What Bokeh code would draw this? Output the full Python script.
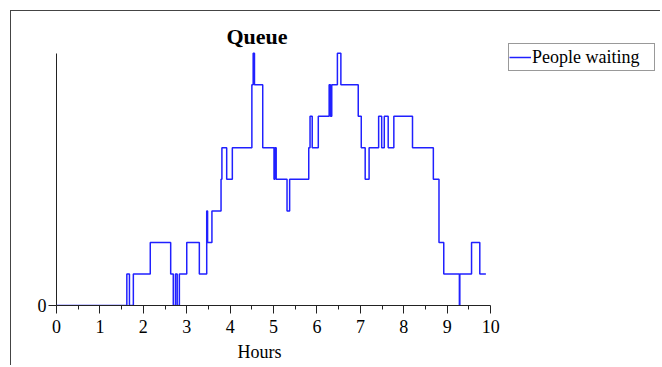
from bokeh.plotting import figure
from bokeh.models import (Range1d, FixedTicker, Title, Legend, LegendItem,
                          ColumnDataSource, Label)
from bokeh.embed import file_html
from bokeh.resources import INLINE

# Time (hours) at which the queue length changes, and the new queue length
hours = [0, 1.62, 1.68, 1.77, 2.16, 2.63, 2.69, 2.74, 2.78, 2.83, 3.00, 3.29,
         3.46, 3.48, 3.58, 3.79, 3.81, 3.92, 4.05, 4.50, 4.53, 4.56, 4.75,
         5.01, 5.03, 5.06, 5.31, 5.37, 5.81, 5.84, 5.89, 6.03, 6.28, 6.31,
         6.34, 6.47, 6.55, 6.95, 7.02, 7.11, 7.20, 7.42, 7.49, 7.55, 7.64,
         7.77, 8.20, 8.68, 8.81, 8.92, 9.28, 9.29, 9.56, 9.75, 9.89]
people = [0, 1, 0, 1, 2, 1, 0, 1, 0, 1, 2, 1,
          3, 2, 3, 4, 5, 4, 5, 7, 8, 7, 5,
          4, 5, 4, 3, 4, 5, 6, 5, 6, 7, 6,
          7, 8, 7, 6, 5, 4, 5, 6, 5, 6, 5,
          6, 5, 4, 2, 1, 0, 1, 2, 1, 1]

x_ticks = [0, 1, 2, 3, 4, 5, 6, 7, 8, 9, 10]
x_minor_ticks = [0.5, 1.5, 2.5, 3.5, 4.5, 5.5, 6.5, 7.5, 8.5, 9.5]
y_ticks = [0]
x_bounds = (0, 10)
y_bounds = (0, 8)

title_text = "Queue"
x_label = "Hours"
series_name = "People waiting"

FONT = "Liberation Serif"
LINE = "#2020ff"
AXIS = "#222222"

src = ColumnDataSource(data=dict(hours=hours, people=people))

p = figure(width=650, height=355, output_backend="svg", toolbar_location=None,
           x_range=Range1d(0, 13.82), y_range=Range1d(0, 8.88),
           min_border_left=45, min_border_top=14,
           min_border_right=5, min_border_bottom=61)
p.styles = {"margin-left": "10px", "margin-top": "10px",
            "border-left": "1px solid #444444", "border-top": "1px solid #444444"}

r = p.step("hours", "people", source=src, mode="after",
           line_color=LINE, line_width=1.5)

p.xgrid.visible = False
p.ygrid.visible = False
p.outline_line_color = None
p.background_fill_color = "white"
p.border_fill_color = "white"

p.xaxis.ticker = FixedTicker(ticks=x_ticks, minor_ticks=x_minor_ticks)
p.yaxis.ticker = FixedTicker(ticks=y_ticks)
p.xaxis.bounds = x_bounds
p.yaxis.bounds = y_bounds
for ax in (p.xaxis, p.yaxis):
    ax.axis_line_color = AXIS
    ax.major_tick_line_color = AXIS
    ax.minor_tick_line_color = AXIS
    ax.major_tick_in = 0
    ax.major_tick_out = 8
    ax.minor_tick_in = 0
    ax.minor_tick_out = 4
    ax.major_label_text_font = FONT
    ax.major_label_text_font_size = "18px"
    ax.major_label_text_color = "black"
p.xaxis.major_label_standoff = 6
p.yaxis.major_label_standoff = 2
p.yaxis.minor_tick_line_color = None

# Chart title, placed in screen pixels relative to the plot frame
p.add_layout(Label(x=170, y=269, x_units="screen", y_units="screen",
                   text=title_text, text_font=FONT, text_font_size="22px",
                   text_font_style="bold", text_color="black",
                   text_align="left", text_baseline="alphabetic"))
p.add_layout(Title(text=x_label, align="left", offset=181, standoff=8,
                   text_font=FONT, text_font_size="18px",
                   text_font_style="normal", text_color="black"), "below")

legend = Legend(items=[LegendItem(label=series_name, renderers=[r])],
                location=(452, 234), padding=0, margin=0, spacing=0,
                glyph_width=22, glyph_height=26, label_height=26,
                label_width=122, label_standoff=1,
                label_text_font=FONT, label_text_font_size="18px",
                label_text_color="black",
                border_line_color="#333333", border_line_width=1,
                background_fill_color="white", background_fill_alpha=1)
p.add_layout(legend)

open("out.html", "w").write(file_html(p, INLINE))
